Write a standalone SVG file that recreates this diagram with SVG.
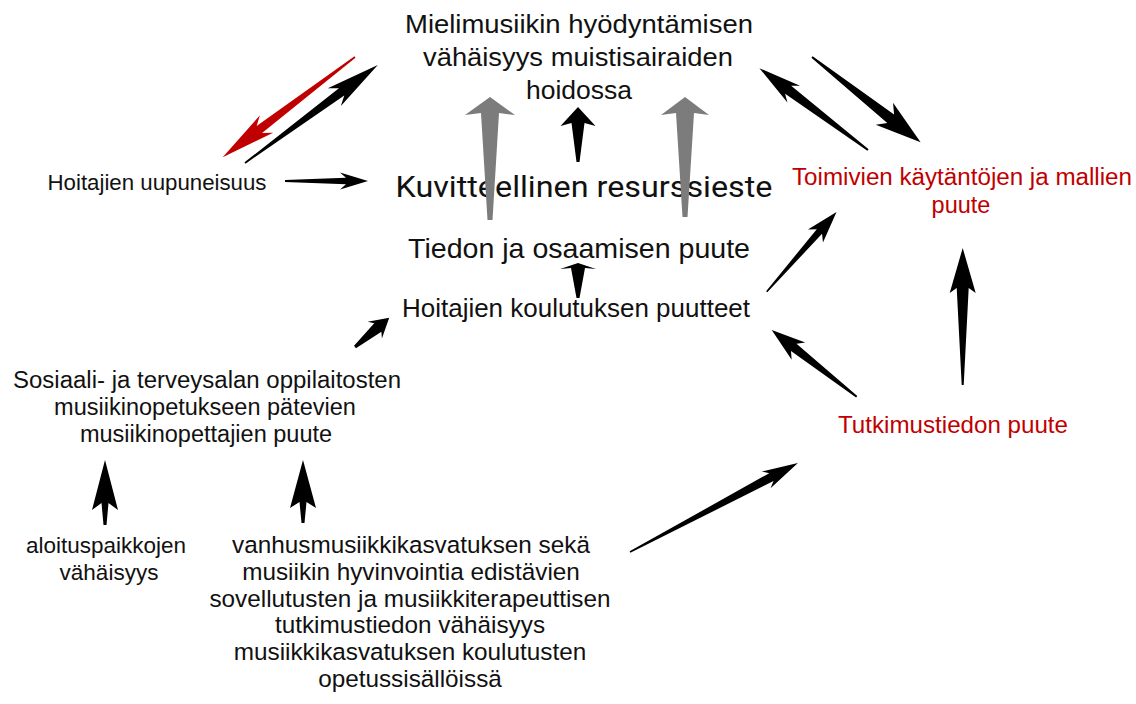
<svg xmlns="http://www.w3.org/2000/svg" width="1136" height="704" viewBox="0 0 1136 704">
<style>
text{font-family:"Liberation Sans",Arial,Helvetica,sans-serif;fill:#111;text-anchor:middle}
.red{fill:#c00000}
.kuv{font-family:Roboto,"Open Sans","DejaVu Sans",sans-serif;font-weight:400;fill:#111}
.a{fill:#000}
.ar{fill:#c00000}
.ag{fill:#7c7c7c}
</style>
<rect width="1136" height="704" fill="#fff"/>
<g id="nodes">
<g id="n-mielimusiikki" font-size="26.5">
<text x="579" y="33" textLength="348" lengthAdjust="spacingAndGlyphs">Mielimusiikin hyödyntämisen</text>
<text x="578" y="66" textLength="310" lengthAdjust="spacingAndGlyphs">vähäisyys muistisairaiden</text>
<text x="579" y="99">hoidossa</text>
</g>
<g id="n-resurssieste"><text class="kuv" x="584" y="197" font-size="29" textLength="377" lengthAdjust="spacingAndGlyphs">Kuvitteellinen resurssieste</text></g>
<g id="n-tiedon"><text x="579" y="258" font-size="27.5" textLength="342" lengthAdjust="spacingAndGlyphs">Tiedon ja osaamisen puute</text></g>
<g id="n-koulutus"><text x="576" y="317" font-size="25.5" textLength="348" lengthAdjust="spacingAndGlyphs">Hoitajien koulutuksen puutteet</text></g>
<g id="n-uupuneisuus"><text x="157" y="190" font-size="21.5" textLength="219" lengthAdjust="spacingAndGlyphs">Hoitajien uupuneisuus</text></g>
<g id="n-toimivien" font-size="23.5">
<text class="red" x="962" y="185" textLength="340" lengthAdjust="spacingAndGlyphs">Toimivien käytäntöjen ja mallien</text>
<text class="red" x="961" y="213">puute</text>
</g>
<g id="n-tutkimustiedon"><text class="red" x="953" y="433" font-size="24" textLength="230" lengthAdjust="spacingAndGlyphs">Tutkimustiedon puute</text></g>
<g id="n-sosiaali" font-size="23.5">
<text x="207" y="388" textLength="388" lengthAdjust="spacingAndGlyphs">Sosiaali- ja terveysalan oppilaitosten</text>
<text x="205" y="415">musiikinopetukseen pätevien</text>
<text x="206" y="442">musiikinopettajien puute</text>
</g>
<g id="n-aloitus" font-size="22.5">
<text x="106" y="553">aloituspaikkojen</text>
<text x="109" y="580">vähäisyys</text>
</g>
<g id="n-vanhus" font-size="24.3">
<text x="411" y="553">vanhusmusiikkikasvatuksen sekä</text>
<text x="411" y="580">musiikin hyvinvointia edistävien</text>
<text x="410" y="607">sovellutusten ja musiikkiterapeuttisen</text>
<text x="410" y="633">tutkimustiedon vähäisyys</text>
<text x="410" y="660">musiikkikasvatuksen koulutusten</text>
<text x="410" y="687">opetussisällöissä</text>
</g>
</g>
<g id="connectors">
<polygon class="ar" transform="translate(355,57) rotate(142.85)" points="0,-0.8 120,-4.5 111,-11 166,0 111,11 120,4.5 0,0.8"/>
<polygon class="a" transform="translate(245,163) rotate(-36.4)" points="0,-0.8 120,-4.5 111,-11 165,0 111,11 120,4.5 0,0.8"/>
<polygon class="a" transform="translate(285,181)" points="0,-1 61,-3.2 55,-8.5 83,0 55,8.5 61,3.2 0,1"/>
<polygon class="ag" transform="translate(490,220) rotate(-90)" points="0,-2.5 107,-9 105,-25 123,0 105,25 107,9 0,2.5"/>
<polygon class="ag" transform="translate(685,217) rotate(-90)" points="0,-2.5 104,-9 102,-24 120,0 102,24 104,9 0,2.5"/>
<polygon class="a" transform="translate(578,162) rotate(-90)" points="0,-1.5 39,-6.5 36,-17.5 55,0 36,17.5 39,6.5 0,1.5"/>
<polygon class="a" transform="translate(578,298) rotate(-90)" points="0,-1.5 30,-7 29,-18 35,0 29,18 30,7 0,1.5"/>
<polygon class="a" transform="translate(766.7,291.7) rotate(-48.8)" points="0,-0.8 80,-3.5 74,-10 106,0 74,10 80,3.5 0,0.8"/>
<polygon class="a" transform="translate(812,57) rotate(38.1)" points="0,-1 100,-5.5 92,-14 138,0 92,14 100,5.5 0,1"/>
<polygon class="a" transform="translate(868,150) rotate(-143)" points="0,-1 100,-5 93,-10.5 136,0 93,10.5 100,5 0,1"/>
<polygon class="a" transform="translate(856.7,396.7) rotate(-141.9)" points="0,-1 80,-4.5 74,-11 108,0 74,11 80,4.5 0,1"/>
<polygon class="a" transform="translate(962.7,385) rotate(-90)" points="0,-1 97,-6 92,-13 137,0 92,13 97,6 0,1"/>
<polygon class="a" transform="translate(630,552) rotate(-27.9)" points="0,-0.8 160,-4.5 154,-9.5 190,0 154,9.5 160,4.5 0,0.8"/>
<polygon class="a" transform="translate(355,347) rotate(-40.5)" points="0,-1.5 30,-5.5 26,-11 45,0 26,11 30,5.5 0,1.5"/>
<polygon class="a" transform="translate(105,525) rotate(-90)" points="0,-1.5 22,-3.5 15,-13 65,0 15,13 22,3.5 0,1.5"/>
<polygon class="a" transform="translate(303,523) rotate(-90)" points="0,-1.5 21,-3.5 15,-13 63,0 15,13 21,3.5 0,1.5"/>
</g>
</svg>
